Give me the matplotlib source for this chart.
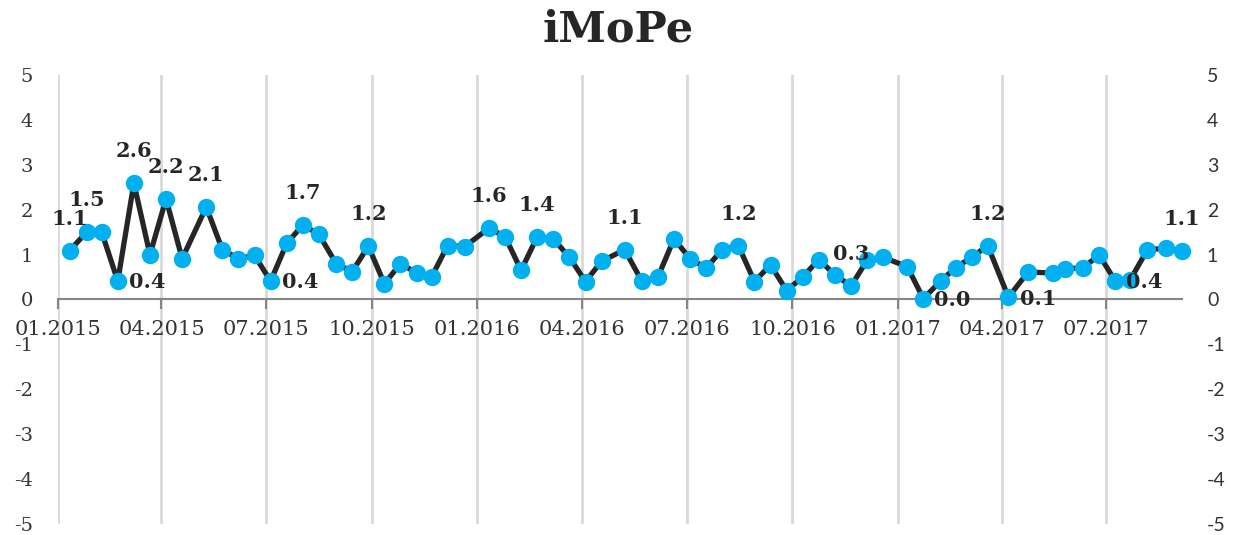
import matplotlib
matplotlib.use("Agg")
import matplotlib.pyplot as plt
import matplotlib.dates as mdates
import numpy as np

plt.rcParams['axes.unicode_minus'] = False

dates = ["2015-01-11", "2015-01-26", "2015-02-08", "2015-02-22", "2015-03-08", "2015-03-22",
         "2015-04-05", "2015-04-19", "2015-05-10", "2015-05-24", "2015-06-07", "2015-06-21",
         "2015-07-05", "2015-07-19", "2015-08-02", "2015-08-16", "2015-08-31", "2015-09-14",
         "2015-09-28", "2015-10-12", "2015-10-26", "2015-11-09", "2015-11-22", "2015-12-06",
         "2015-12-21", "2016-01-11", "2016-01-25", "2016-02-08", "2016-02-22", "2016-03-07",
         "2016-03-21", "2016-04-04", "2016-04-18", "2016-05-08", "2016-05-23", "2016-06-06",
         "2016-06-20", "2016-07-04", "2016-07-18", "2016-08-01", "2016-08-15", "2016-08-29",
         "2016-09-12", "2016-09-26", "2016-10-10", "2016-10-24", "2016-11-07", "2016-11-21",
         "2016-12-05", "2016-12-19", "2017-01-09", "2017-01-23", "2017-02-07", "2017-02-20",
         "2017-03-06", "2017-03-20", "2017-04-07", "2017-04-24", "2017-05-16", "2017-05-26",
         "2017-06-11", "2017-06-25", "2017-07-09", "2017-07-22", "2017-08-06", "2017-08-22",
         "2017-09-05"]
values = [1.09, 1.50, 1.50, 0.41, 2.59, 1.00, 2.24, 0.91, 2.06, 1.11, 0.91, 0.98,
          0.41, 1.25, 1.66, 1.45, 0.80, 0.62, 1.19, 0.35, 0.80, 0.59, 0.50, 1.20,
          1.18, 1.59, 1.40, 0.65, 1.40, 1.35, 0.94, 0.40, 0.85, 1.11, 0.41, 0.50,
          1.35, 0.91, 0.70, 1.11, 1.20, 0.40, 0.77, 0.20, 0.50, 0.89, 0.55, 0.30,
          0.87, 0.94, 0.73, 0.02, 0.41, 0.71, 0.94, 1.20, 0.05, 0.61, 0.59, 0.68,
          0.71, 0.99, 0.41, 0.44, 1.11, 1.14, 1.09]
# which points carry a value label, and where
label_above = [0, 1, 4, 6, 8, 14, 18, 25, 28, 33, 40, 47, 55, 66]
label_right = [3, 12, 51, 56, 62]
yticks = [-5, -4, -3, -2, -1, 0, 1, 2, 3, 4, 5]

x = np.array(dates, dtype="datetime64[D]")
y = np.array(values)

fig = plt.figure(figsize=(12.37, 5.35), dpi=100)
ax = fig.add_axes([0.0469, 0.0206, 0.9086, 0.8392])

ax.plot(x, y, color="#262626", lw=3.8, zorder=3, clip_on=False)
ax.plot(x, y, ls="none", marker="o", ms=11.5, mfc="#00B0F0", mec="#00B0F0",
        zorder=4, clip_on=False)

lab_font = dict(family="DejaVu Serif", fontweight="bold", fontsize=15, color="#262626")
for i in label_above:
    ax.annotate("%.1f" % y[i], (x[i], y[i]), xytext=(0, 23), textcoords="offset points",
                ha="center", va="center", zorder=5, **lab_font)
for i in label_right:
    ax.annotate("%.1f" % y[i], (x[i], y[i]), xytext=(8, -1), textcoords="offset points",
                ha="left", va="center", zorder=5, **lab_font)

ax.set_xlim(np.datetime64("2015-01-01"), np.datetime64("2017-09-05"))
ax.set_ylim(-5, 5)
ax.xaxis.set_major_locator(mdates.MonthLocator(bymonth=[1, 4, 7, 10]))
ax.xaxis.set_major_formatter(mdates.DateFormatter("%m.%Y"))
ax.grid(axis="x", color="#D9D9D9", lw=2)
ax.set_axisbelow(True)

for s in ["top", "right", "left"]:
    ax.spines[s].set_visible(False)
ax.spines["bottom"].set_position(("data", 0))
ax.spines["bottom"].set_color("#868686")
ax.spines["bottom"].set_linewidth(1.5)
ax.tick_params(axis="x", length=7, width=1.5, color="#868686", pad=8,
               labelsize=15, labelcolor="#333333")
for t in ax.get_xticklabels():
    t.set_family("DejaVu Serif")

ax.set_yticks(yticks)
ax.tick_params(axis="y", length=0, pad=18, labelsize=14, labelcolor="#333333")
for t in ax.get_yticklabels():
    t.set_family("DejaVu Serif")

ax2 = ax.twinx()
ax2.set_ylim(-5, 5)
ax2.set_yticks(yticks)
for s in ax2.spines.values():
    s.set_visible(False)
ax2.tick_params(axis="y", length=0, pad=18, labelsize=14, labelcolor="#333333")
for t in ax2.get_yticklabels():
    t.set_family("Lato")

fig.text(0.5, 1 - 30 / 535, "iMoPe", ha="center", va="center", family="DejaVu Serif",
         fontweight="bold", fontsize=31, color="#262626")

fig.savefig("out.png", dpi=100)
